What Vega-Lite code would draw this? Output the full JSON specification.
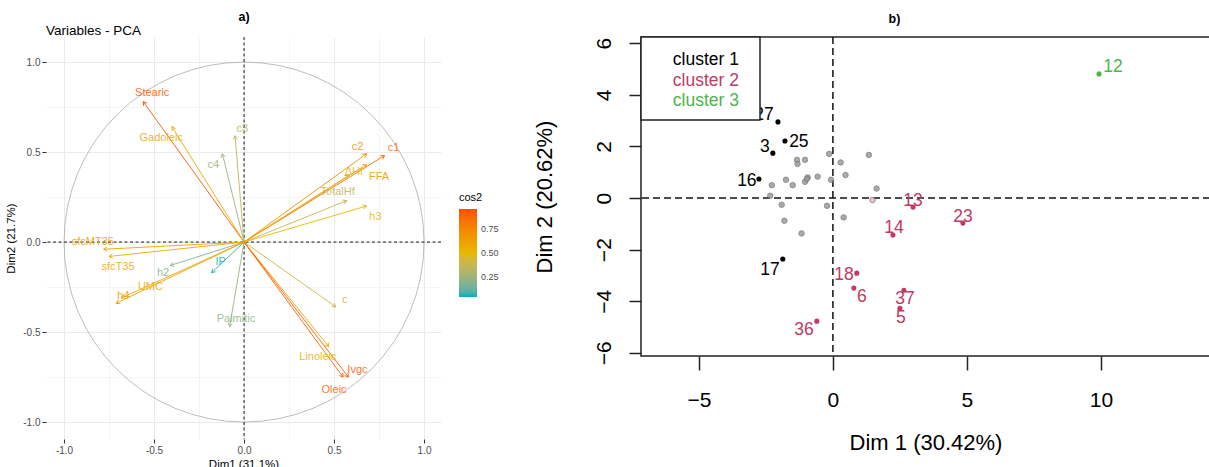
{
  "$schema": "https://vega.github.io/schema/vega-lite/v6.json",
  "padding": {"left": 5, "top": 11, "right": 0, "bottom": 0},
  "background": "white",
  "config": {"font": "Liberation Sans", "view": {"stroke": null}, "concat": {"spacing": 33}},
  "datasets": {
    "vars": [
      {"name": "Stearic", "x": -0.56, "y": 0.78, "cos2": 0.92, "lx": -0.51, "ly": 0.83},
      {"name": "Gadoleic", "x": -0.40, "y": 0.64, "cos2": 0.57, "lx": -0.46, "ly": 0.58},
      {"name": "c3", "x": -0.05, "y": 0.59, "cos2": 0.35, "lx": -0.01, "ly": 0.63},
      {"name": "c4", "x": -0.12, "y": 0.49, "cos2": 0.25, "lx": -0.17, "ly": 0.43},
      {"name": "c2", "x": 0.68, "y": 0.49, "cos2": 0.70, "lx": 0.63, "ly": 0.53},
      {"name": "c1", "x": 0.78, "y": 0.48, "cos2": 0.84, "lx": 0.83, "ly": 0.52},
      {"name": "FFA", "x": 0.68, "y": 0.43, "cos2": 0.65, "lx": 0.75, "ly": 0.36},
      {"name": "ΔHf", "x": 0.58, "y": 0.37, "cos2": 0.47, "lx": 0.61, "ly": 0.39},
      {"name": "TotalHf", "x": 0.57, "y": 0.23, "cos2": 0.38, "lx": 0.52, "ly": 0.28},
      {"name": "h3", "x": 0.68, "y": 0.20, "cos2": 0.50, "lx": 0.73, "ly": 0.14},
      {"name": "sfcMT35", "x": -0.78, "y": -0.04, "cos2": 0.61, "lx": -0.84, "ly": 0.0},
      {"name": "sfcT35", "x": -0.75, "y": -0.08, "cos2": 0.57, "lx": -0.70, "ly": -0.14},
      {"name": "h2", "x": -0.41, "y": -0.13, "cos2": 0.19, "lx": -0.45, "ly": -0.17},
      {"name": "IP", "x": -0.18, "y": -0.17, "cos2": 0.06, "lx": -0.13, "ly": -0.11},
      {"name": "UMC", "x": -0.68, "y": -0.31, "cos2": 0.56, "lx": -0.52, "ly": -0.25},
      {"name": "h4", "x": -0.71, "y": -0.34, "cos2": 0.62, "lx": -0.67, "ly": -0.30},
      {"name": "Palmitic", "x": -0.08, "y": -0.47, "cos2": 0.23, "lx": -0.045, "ly": -0.43},
      {"name": "c", "x": 0.51, "y": -0.36, "cos2": 0.39, "lx": 0.56, "ly": -0.32},
      {"name": "Linoleic", "x": 0.47, "y": -0.58, "cos2": 0.56, "lx": 0.41, "ly": -0.64},
      {"name": "Ivgc", "x": 0.58, "y": -0.75, "cos2": 0.90, "lx": 0.63, "ly": -0.71},
      {"name": "Oleic", "x": 0.55, "y": -0.75, "cos2": 0.87, "lx": 0.50, "ly": -0.82}
    ],
    "ind": [
      {"id": "27", "x": -2.05, "y": 2.95, "g": "cluster 1", "lx": -2.57, "ly": 3.22},
      {"id": "25", "x": -1.79, "y": 2.21, "g": "cluster 1", "lx": -1.27, "ly": 2.17},
      {"id": "3", "x": -2.24, "y": 1.74, "g": "cluster 1", "lx": -2.54, "ly": 1.98},
      {"id": "16", "x": -2.76, "y": 0.74, "g": "cluster 1", "lx": -3.21, "ly": 0.66},
      {"id": "17", "x": -1.87, "y": -2.36, "g": "cluster 1", "lx": -2.35, "ly": -2.79},
      {"id": "13", "x": 2.99, "y": -0.35, "g": "cluster 2", "lx": 2.99, "ly": -0.12},
      {"id": "23", "x": 4.85, "y": -0.97, "g": "cluster 2", "lx": 4.85, "ly": -0.74},
      {"id": "14", "x": 2.24, "y": -1.43, "g": "cluster 2", "lx": 2.28, "ly": -1.16},
      {"id": "18", "x": 0.89, "y": -2.91, "g": "cluster 2", "lx": 0.41, "ly": -2.98},
      {"id": "6", "x": 0.78, "y": -3.49, "g": "cluster 2", "lx": 1.08, "ly": -3.84},
      {"id": "36", "x": -0.6, "y": -4.77, "g": "cluster 2", "lx": -1.08, "ly": -5.12},
      {"id": "37", "x": 2.65, "y": -3.57, "g": "cluster 2", "lx": 2.69, "ly": -3.91},
      {"id": "5", "x": 2.5, "y": -4.27, "g": "cluster 2", "lx": 2.54, "ly": -4.65},
      {"id": "12", "x": 9.93, "y": 4.81, "g": "cluster 3", "lx": 10.45, "ly": 5.08}
    ],
    "others": [
      {"x": -0.14, "y": 1.71, "g": "other"}, {"x": 1.34, "y": 1.67, "g": "other"},
      {"x": -1.34, "y": 1.48, "g": "other"}, {"x": -1.04, "y": 1.48, "g": "other"},
      {"x": -1.32, "y": 1.32, "g": "other"}, {"x": 0.29, "y": 1.38, "g": "other"},
      {"x": 0.47, "y": 0.89, "g": "other"}, {"x": -2.28, "y": 0.5, "g": "other"},
      {"x": -1.75, "y": 0.71, "g": "other"}, {"x": -1.5, "y": 0.5, "g": "other"},
      {"x": -1.04, "y": 0.63, "g": "other"}, {"x": -0.94, "y": 0.80, "g": "other"},
      {"x": -0.57, "y": 0.83, "g": "other"}, {"x": -0.07, "y": 0.71, "g": "other"},
      {"x": 1.63, "y": 0.37, "g": "other"}, {"x": -2.34, "y": 0.09, "g": "other"},
      {"x": -1.91, "y": -0.26, "g": "other"}, {"x": -0.22, "y": -0.30, "g": "other"},
      {"x": 0.40, "y": -0.75, "g": "other"}, {"x": -1.81, "y": -0.88, "g": "other"},
      {"x": -1.17, "y": -1.37, "g": "other"}, {"x": -0.97, "y": 0.74, "g": "other"},
      {"x": 1.48, "y": -0.08, "g": "faint"}
    ],
    "legendItems": [
      {"label": "cluster 1", "g": "cluster 1", "x": -4.74, "y": 5.35},
      {"label": "cluster 2", "g": "cluster 2", "x": -4.74, "y": 4.53},
      {"label": "cluster 3", "g": "cluster 3", "x": -4.74, "y": 3.75}
    ],
    "legendBox": [{"x1": -7.16, "x2": -2.72, "y1": 3.02, "y2": 6.24}]
  },
  "hconcat": [
    {
      "width": 395,
      "height": 402,
      "layer": [
        {
          "data": {"values": [{}]},
          "mark": {"type": "point", "shape": "circle", "size": 129600, "filled": false, "stroke": "#a0a0a0", "strokeWidth": 0.7, "opacity": 1},
          "encoding": {
            "x": {"datum": 0, "type": "quantitative",
              "scale": {"domain": [-1.1, 1.094], "nice": false, "zero": false},
              "axis": {"title": "Dim1 (31.1%)", "values": [-1, -0.75, -0.5, -0.25, 0, 0.25, 0.5, 0.75, 1],
                "labelExpr": "abs(datum.value % 0.5) > 0.01 ? '' : replace(format(datum.value, '.1f'), '−', '-')",
                "grid": true, "gridColor": "#ebebeb",
                "gridWidth": {"condition": {"test": "abs(datum.value % 0.5) > 0.01", "value": 0.5}, "value": 1},
                "tickColor": {"condition": {"test": "abs(datum.value % 0.5) > 0.01", "value": "transparent"}, "value": "#333"},
                "tickSize": 4, "labelPadding": 2, "domain": false, "labelFontSize": 10, "labelColor": "#4d4d4d",
                "titleFontSize": 11.5, "titleFontWeight": "normal", "titleColor": "#000", "titlePadding": 3}},
            "y": {"datum": 0, "type": "quantitative",
              "scale": {"domain": [-1.094, 1.139], "nice": false, "zero": false},
              "axis": {"title": "Dim2 (21.7%)", "values": [-1, -0.75, -0.5, -0.25, 0, 0.25, 0.5, 0.75, 1],
                "labelExpr": "abs(datum.value % 0.5) > 0.01 ? '' : replace(format(datum.value, '.1f'), '−', '-')",
                "grid": true, "gridColor": "#ebebeb",
                "gridWidth": {"condition": {"test": "abs(datum.value % 0.5) > 0.01", "value": 0.5}, "value": 1},
                "tickColor": {"condition": {"test": "abs(datum.value % 0.5) > 0.01", "value": "transparent"}, "value": "#333"},
                "tickSize": 4, "labelPadding": 2, "domain": false, "labelFontSize": 10, "labelColor": "#4d4d4d",
                "titleFontSize": 11.5, "titleFontWeight": "normal", "titleColor": "#000", "titlePadding": 6}}
          }
        },
        {
          "data": {"values": [{}]},
          "mark": {"type": "rule", "strokeDash": [3, 2.5], "color": "#000", "strokeWidth": 0.9},
          "encoding": {"x": {"datum": 0, "type": "quantitative"}}
        },
        {
          "data": {"values": [{}]},
          "mark": {"type": "rule", "strokeDash": [3, 2.5], "color": "#000", "strokeWidth": 0.9},
          "encoding": {"y": {"datum": 0, "type": "quantitative"}}
        },
        {
          "data": {"name": "vars"},
          "mark": {"type": "rule", "strokeWidth": 0.9},
          "encoding": {
            "x": {"field": "x", "type": "quantitative"},
            "y": {"field": "y", "type": "quantitative"},
            "x2": {"datum": 0},
            "y2": {"datum": 0},
            "color": {"field": "cos2", "type": "quantitative",
              "scale": {"domain": [0.05, 0.95], "range": ["#00AFBB", "#E7B800", "#FC4E07"], "interpolate": "lab"},
              "legend": {"type": "gradient", "title": "cos2", "orient": "none", "legendX": 413, "legendY": 155, "direction": "vertical",
                "gradientLength": 88, "gradientThickness": 18, "values": [0.25, 0.5, 0.75], "format": ".2f",
                "titleFontSize": 11, "titleFontWeight": "normal", "titleColor": "#000", "titlePadding": 6,
                "labelFontSize": 9, "labelColor": "#4d4d4d", "labelOffset": 4}}
          }
        },
        {
          "data": {"name": "vars"},
          "transform": [{"calculate": "(atan2(datum.x, datum.y) * 180 / PI + 360) % 360", "as": "ang"}],
          "mark": {"type": "point", "shape": "M-0.6,1L0,0L0.6,1", "filled": false, "size": 50, "strokeWidth": 0.9, "opacity": 1},
          "encoding": {
            "x": {"field": "x", "type": "quantitative"},
            "y": {"field": "y", "type": "quantitative"},
            "angle": {"field": "ang", "type": "quantitative", "scale": {"domain": [0, 360], "range": [0, 360]}},
            "color": {"field": "cos2", "type": "quantitative"}
          }
        },
        {
          "data": {"name": "vars"},
          "mark": {"type": "text", "fontSize": 11, "align": "center", "baseline": "middle", "opacity": 0.85},
          "encoding": {
            "x": {"field": "lx", "type": "quantitative"},
            "y": {"field": "ly", "type": "quantitative"},
            "text": {"field": "name"},
            "fill": {"field": "cos2", "type": "quantitative", "legend": null,
              "scale": {"domain": [0.05, 0.95], "range": ["#00AFBB", "#E7B800", "#FC4E07"], "interpolate": "lab"}}
          }
        },
        {
          "data": {"values": [{}]},
          "mark": {"type": "text", "fontSize": 13.5, "align": "left", "baseline": "middle", "color": "#000"},
          "encoding": {
            "x": {"datum": -1.1, "type": "quantitative"},
            "y": {"datum": 1.17, "type": "quantitative"},
            "text": {"value": "Variables - PCA"}
          }
        },
        {
          "data": {"values": [{}]},
          "mark": {"type": "text", "fontSize": 12.5, "fontWeight": "bold", "align": "center", "baseline": "middle", "color": "#000"},
          "encoding": {
            "x": {"datum": 0, "type": "quantitative"},
            "y": {"datum": 1.25, "type": "quantitative"},
            "text": {"value": "a)"}
          }
        }
      ]
    },
    {
      "width": 569,
      "height": 319,
      "view": {"stroke": "#222", "strokeWidth": 1.5},
      "title": {"text": "b)", "fontWeight": "bold", "fontSize": 12.5, "anchor": "middle", "frame": "group", "dx": -31, "offset": 11, "color": "#000"},
      "layer": [
        {
          "data": {"values": [{}]},
          "mark": {"type": "rule", "strokeDash": [7, 4], "color": "#111", "strokeWidth": 1.5},
          "encoding": {"x": {"datum": 0, "type": "quantitative",
            "scale": {"domain": [-7.16, 14.07], "nice": false, "zero": false},
            "axis": {"title": "Dim 1 (30.42%)", "values": [-5, 0, 5, 10], "grid": false, "domain": false,
              "tickSize": 14, "tickColor": "#222", "tickWidth": 1.5, "labelFontSize": 21, "labelColor": "#000",
              "labelPadding": 19, "titleFontSize": 22, "titleFontWeight": "normal", "titleColor": "#000", "titlePadding": 22}}}
        },
        {
          "data": {"values": [{}]},
          "mark": {"type": "rule", "strokeDash": [7, 4], "color": "#111", "strokeWidth": 1.5},
          "encoding": {"y": {"datum": 0, "type": "quantitative",
            "scale": {"domain": [-6.12, 6.24], "nice": false, "zero": false},
            "axis": {"title": "Dim 2 (20.62%)", "values": [-6, -4, -2, 0, 2, 4, 6], "grid": false, "domain": false,
              "tickSize": 12, "tickColor": "#222", "tickWidth": 1.5, "labelFontSize": 21, "labelColor": "#000",
              "labelAngle": 270, "labelAlign": "center", "labelBaseline": "bottom",
              "labelPadding": 15, "titleFontSize": 22, "titleFontWeight": "normal", "titleColor": "#000", "titlePadding": 37}}}
        },
        {
          "data": {"name": "others"},
          "mark": {"type": "point", "filled": true, "size": 30, "opacity": 0.85, "stroke": "#6e6e6e", "strokeWidth": 0.8},
          "encoding": {
            "x": {"field": "x", "type": "quantitative"},
            "y": {"field": "y", "type": "quantitative"},
            "color": {"field": "g", "type": "nominal", "legend": null}
          }
        },
        {
          "data": {"name": "ind"},
          "mark": {"type": "point", "filled": true, "size": 26, "opacity": 1},
          "encoding": {
            "x": {"field": "x", "type": "quantitative"},
            "y": {"field": "y", "type": "quantitative"},
            "color": {"field": "g", "type": "nominal", "legend": null,
              "scale": {"domain": ["cluster 1", "cluster 2", "cluster 3", "other", "faint"], "range": ["#000000", "#C03A62", "#4DB54D", "#9c9c9c", "#f0b4c4"]}}
          }
        },
        {
          "data": {"name": "ind"},
          "mark": {"type": "text", "fontSize": 17.5, "align": "center", "baseline": "middle"},
          "encoding": {
            "x": {"field": "lx", "type": "quantitative"},
            "y": {"field": "ly", "type": "quantitative"},
            "text": {"field": "id"},
            "color": {"field": "g", "type": "nominal", "legend": null}
          }
        },
        {
          "data": {"name": "legendBox"},
          "mark": {"type": "rect", "fill": "white", "stroke": "#222", "strokeWidth": 1.5},
          "encoding": {
            "x": {"field": "x1", "type": "quantitative"},
            "x2": {"field": "x2"},
            "y": {"field": "y1", "type": "quantitative"},
            "y2": {"field": "y2"}
          }
        },
        {
          "data": {"name": "legendItems"},
          "mark": {"type": "text", "fontSize": 17.5, "align": "center", "baseline": "middle"},
          "encoding": {
            "x": {"field": "x", "type": "quantitative"},
            "y": {"field": "y", "type": "quantitative"},
            "text": {"field": "label"},
            "color": {"field": "g", "type": "nominal", "legend": null}
          }
        }
      ]
    }
  ]
}
